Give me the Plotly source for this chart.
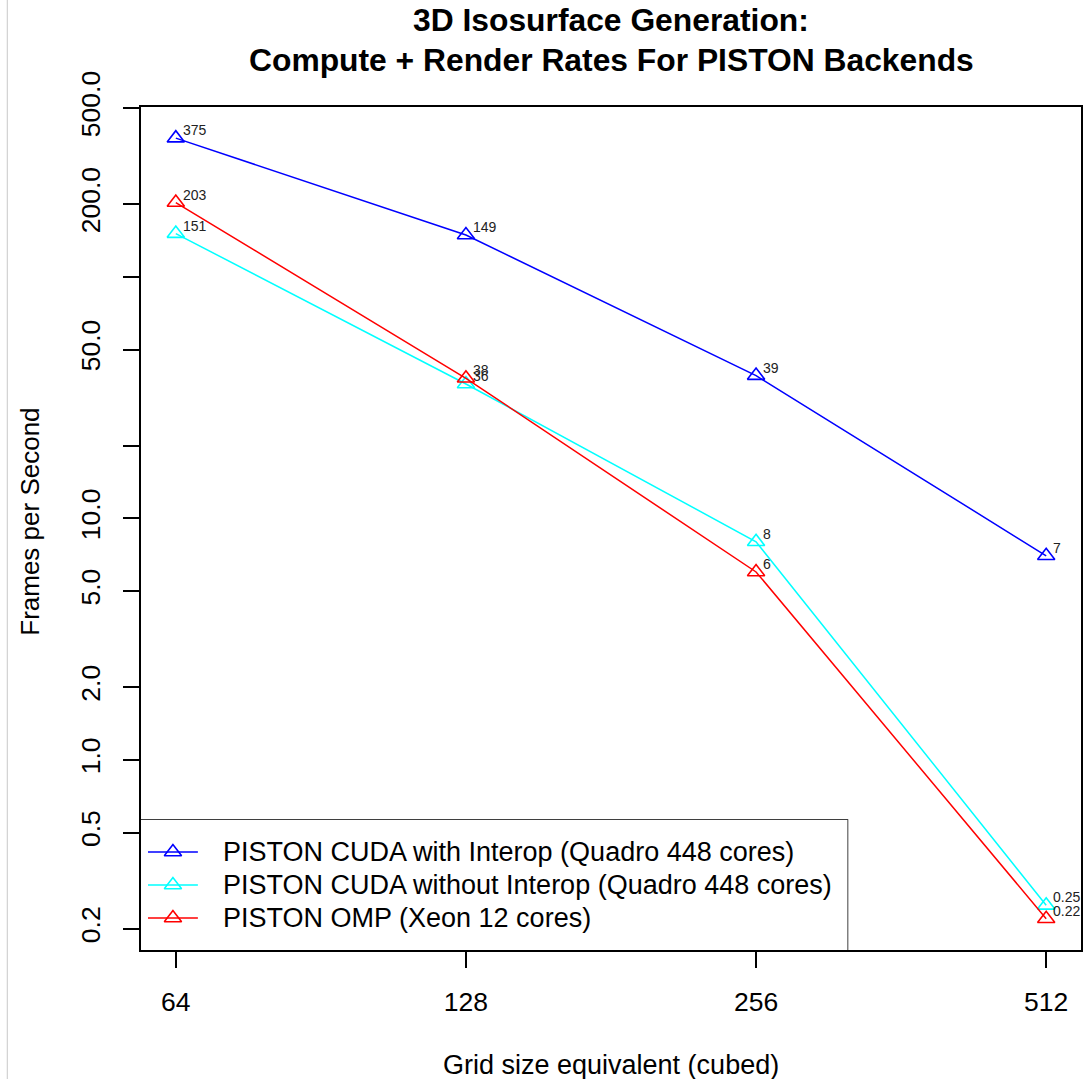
import math
import plotly.graph_objects as go

# ---- data ----
grid_sizes = ["64", "128", "256", "512"]
series_names = [
    "PISTON CUDA with Interop (Quadro 448 cores)",
    "PISTON CUDA without Interop (Quadro 448 cores)",
    "PISTON OMP (Xeon 12 cores)",
]
cuda_interop_fps = [375, 149, 39, 7]
cuda_no_interop_fps = [151, 36, 8, 0.25]
omp_fps = [203, 38, 6, 0.22]
series_colors = ["#0000FF", "#00FFFF", "#FF0000"]

y_tick_vals = [0.2, 0.5, 1, 2, 5, 10, 20, 50, 100, 200, 500]
y_tick_text = ["0.2", "0.5", "1.0", "2.0", "5.0", "10.0", "", "50.0", "", "200.0", "500.0"]

FONT = "Liberation Sans, Arial, Helvetica, sans-serif"

# ---- layout geometry (pixels) ----
W, H = 1092, 1079
L, R, T, B = 141, 9, 107, 129
PW, PH = W - L - R, H - T - B

series_values = [cuda_interop_fps, cuda_no_interop_fps, omp_fps]
x_pos = list(range(1, len(grid_sizes) + 1))

fig = go.Figure()
annotations = []

for name, vals, col in zip(series_names, series_values, series_colors):
    fig.add_trace(go.Scatter(
        x=x_pos, y=vals, mode="lines+markers", name=name,
        line=dict(color=col, width=1.5),
        marker=dict(symbol="triangle-up-open", size=15, color=col,
                    line=dict(color=col, width=1.6)),
        showlegend=False, cliponaxis=False,
    ))
    # value labels (annotation y on a log axis is given in log10 units)
    for xv, yv in zip(x_pos, vals):
        annotations.append(dict(
            x=xv, y=math.log10(yv), xref="x", yref="y", text=f"{yv:g}",
            showarrow=False, xanchor="left", yanchor="middle",
            xshift=5, yshift=8, font=dict(family=FONT, size=14, color="#222"),
        ))

# ---- hand-built legend box in the lower-left corner of the plot ----
LEG_W, LEG_H = 708, 130
row_offsets = [32, 65, 98]
for name, col, ry in zip(series_names, series_colors, row_offsets):
    fig.add_trace(go.Scatter(
        x=[7, 57], y=[ry, ry], mode="lines", xaxis="x2", yaxis="y2",
        line=dict(color=col, width=1.5), showlegend=False, hoverinfo="skip",
    ))
    fig.add_trace(go.Scatter(
        x=[32], y=[ry], mode="markers", xaxis="x2", yaxis="y2",
        marker=dict(symbol="triangle-up-open", size=15, color=col,
                    line=dict(color=col, width=1.6)),
        showlegend=False, hoverinfo="skip",
    ))
    annotations.append(dict(
        x=80, y=ry, xref="x2", yref="y2", text=name, showarrow=False,
        xanchor="left", yanchor="middle",
        font=dict(family=FONT, size=27, color="black"),
    ))

shapes = [
    dict(type="rect", xref="paper", yref="paper", x0=0, x1=LEG_W / PW,
         y0=0, y1=LEG_H / PH, line=dict(color="black", width=1.5),
         fillcolor="white", layer="below"),
    # thin border line at the page's left edge
    dict(type="line", xref="paper", yref="paper",
         x0=(7 - L) / PW, x1=(7 - L) / PW, y0=-B / PH, y1=1 + T / PH,
         line=dict(color="#c8c8c8", width=1)),
]

# ---- titles ----
annotations += [
    dict(x=0.5, y=1, xref="paper", yref="paper", yshift=87,
         text="<b>3D Isosurface Generation:</b>", showarrow=False,
         xanchor="center", yanchor="middle",
         font=dict(family=FONT, size=31.8, color="black")),
    dict(x=0.5, y=1, xref="paper", yref="paper", yshift=47,
         text="<b>Compute + Render Rates For PISTON Backends</b>", showarrow=False,
         xanchor="center", yanchor="middle",
         font=dict(family=FONT, size=31.8, color="black")),
    dict(x=0.5, y=0, xref="paper", yref="paper", yshift=-115,
         text="Grid size equivalent (cubed)", showarrow=False,
         xanchor="center", yanchor="middle",
         font=dict(family=FONT, size=27, color="black")),
    dict(x=0, y=0.508, xref="paper", yref="paper", xshift=-111,
         text="Frames per Second", showarrow=False, textangle=-90,
         xanchor="center", yanchor="middle",
         font=dict(family=FONT, size=26, color="black")),
]

axis_common = dict(
    showgrid=False, zeroline=False, showline=True, linecolor="black",
    linewidth=1.7, mirror=True, ticks="outside", ticklen=16, tickwidth=1.5,
    tickcolor="black", tickfont=dict(family=FONT, size=26.5, color="black"),
)

fig.update_layout(
    width=W, height=H,
    margin=dict(l=L, r=R, t=T, b=B, pad=0),
    paper_bgcolor="white", plot_bgcolor="white",
    showlegend=False,
    xaxis=dict(range=[0.88, 4.12], tickvals=x_pos, ticktext=grid_sizes,
               ticklabelstandoff=11, **axis_common),
    yaxis=dict(type="log", range=[-0.787, 2.703], tickvals=y_tick_vals,
               ticktext=y_tick_text, tickangle=-90, ticklabelstandoff=13,
               **axis_common),
    xaxis2=dict(domain=[0, LEG_W / PW], range=[0, LEG_W], visible=False,
                anchor="y2", fixedrange=True),
    yaxis2=dict(domain=[0, LEG_H / PH], range=[LEG_H, 0], visible=False,
                anchor="x2", fixedrange=True),
    shapes=shapes,
    annotations=annotations,
)

fig.write_html("out.html", config={"displayModeBar": False})
